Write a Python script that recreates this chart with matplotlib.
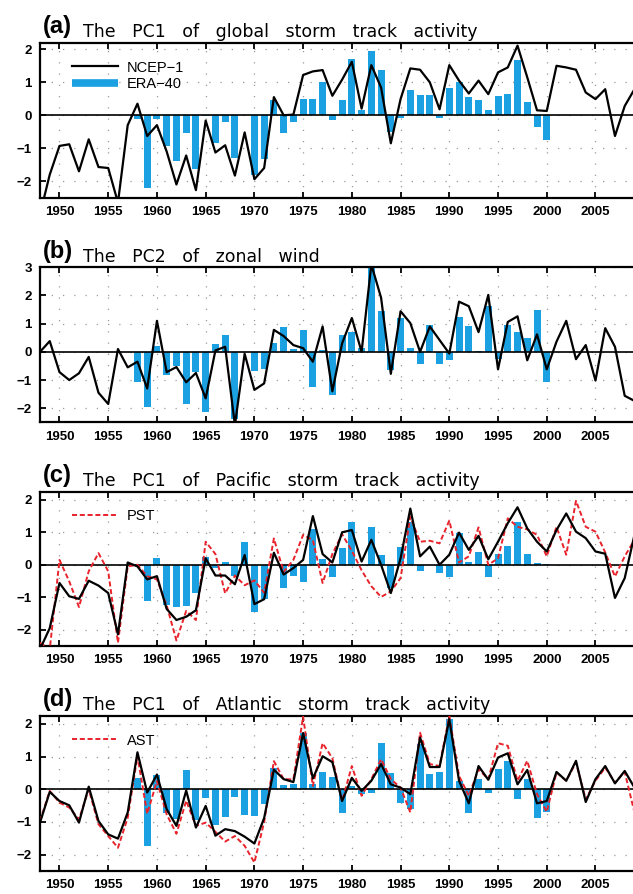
"""
plot.py
-------
Four stacked panels: PCs of storm track activity / zonal wind,
NCEP-1 (black line) vs ERA-40 (blue bars), plus PST / AST (red dashed).
"""

import numpy as np
import matplotlib
matplotlib.use("Agg")
import matplotlib.pyplot as plt
from matplotlib.lines import Line2D

# ── Data ──────────────────────────────────────────────────────────────────────
YEARS     = np.arange(1948, 2010)
ERA_YEARS = np.arange(1958, 2001)

# (a) PC1 of global storm track activity
gst_ncep = [-3.0, -1.8, -0.93, -0.88, -1.7, -0.73, -1.57, -1.6, -2.65, -0.3,
            0.35, -0.63, -0.3, -1.1, -2.1, -1.22, -2.27, -0.16, -1.13, -0.91,
            -1.83, -0.52, -1.94, -1.6, 0.55, 0.0, 0.02, 1.22, 1.33, 1.37,
            0.59, 1.08, 1.62, 0.2, 1.52, 0.84, -0.85, 0.49, 1.42, 1.38,
            1.0, 0.18, 1.52, 1.05, 0.66, 1.05, 0.64, 1.3, 1.45, 2.11,
            1.15, 0.15, 0.13, 1.5, 1.45, 1.38, 0.69, 0.49, 0.79, -0.63,
            0.28, 0.79]
gst_era = [-0.1, -2.2, -0.1, -0.93, -1.4, -0.53, -1.62, -0.03, -0.85, -0.2,
           -1.3, 0.02, -1.82, -1.33, 0.47, -0.55, -0.2, 0.5, 0.5, 1.0,
           -0.15, 0.47, 1.7, 0.15, 1.94, 1.38, -0.5, -0.07, 0.77, 0.62,
           0.62, -0.07, 0.82, 1.0, 0.56, 0.46, 0.16, 0.59, 0.64, 1.68,
           0.41, -0.35, -0.75]

# (b) PC2 of zonal wind
uwnd_ncep = [0.0, 0.38, -0.72, -1.0, -0.76, -0.18, -1.45, -1.85, 0.1, -0.55,
             -0.35, -1.3, 1.1, -0.72, -0.54, -1.08, -0.75, -1.65, 0.05, 0.18,
             -2.6, -0.07, -1.35, -1.12, 0.78, 0.56, 0.24, 0.13, -0.35, 0.9,
             -1.4, 0.3, 1.2, 0.0, 3.1, 1.92, -0.78, 1.44, 1.02, 0.0,
             0.9, 0.42, -0.06, 1.78, 1.62, 0.7, 2.02, -0.62, 1.06, 1.26,
             -0.3, 0.62, -0.62, 0.36, 1.1, -0.26, 0.24, -1.02, 0.84, 0.18,
             -1.56, -1.74]
uwnd_era = [-1.07, -1.94, 0.22, -0.81, -0.5, -1.85, -0.7, -2.12, 0.29, 0.6,
            -2.38, 0.0, -0.69, -0.6, 0.32, 0.88, 0.1, 0.79, -1.23, 0.06,
            -1.52, 0.6, 0.72, 0.12, 3.0, 1.44, -0.66, 1.2, 0.12, -0.42,
            0.96, -0.42, -0.3, 1.24, 0.9, 0.02, 1.62, -0.24, 0.96, 0.7,
            0.48, 1.5, -1.08]

# (c) PC1 of Pacific storm track activity
pac_ncep = [-2.6, -1.95, -0.56, -0.97, -1.05, -0.49, -0.64, -0.87, -2.14, 0.07,
            -0.05, -0.45, -0.35, -1.36, -1.7, -1.6, -1.4, 0.2, -0.33, -0.33,
            -0.6, 0.3, -1.21, -1.06, 0.37, -0.3, -0.1, 0.15, 1.5, 0.33,
            0.07, 1.0, 1.07, 0.1, 0.77, 0.0, -0.87, 0.2, 1.73, 0.26,
            0.56, 0.0, 0.31, 0.99, 0.46, 0.89, 0.17, 0.71, 1.28, 1.77,
            1.12, 0.71, 0.41, 1.07, 1.58, 1.02, 0.82, 0.41, 0.34, -1.02,
            -0.41, 0.92]
pac_pst = [-2.4, -2.6, 0.15, -0.51, -1.3, -0.2, 0.36, -0.2, -2.4, -0.05,
           0.0, -0.35, -0.45, -1.25, -2.33, -1.42, -1.7, 0.71, 0.33, -0.88,
           -0.33, -0.63, -0.48, -0.86, 0.81, -0.22, 0.15, 0.92, 0.76, -0.56,
           0.33, 0.94, 0.43, -0.17, -0.66, -0.99, -0.82, -0.41, 1.48, 0.71,
           0.74, 0.66, 1.36, 0.07, 0.26, 1.15, 0.0, 0.2, 1.43, 1.17,
           1.09, 0.92, 0.26, 1.17, 0.31, 1.97, 1.17, 1.02, 0.38, -0.36,
           0.26, 0.77]
pac_era = [-0.05, -1.13, 0.2, -1.23, -1.31, -1.26, -0.86, 0.25, -0.1, 0.1,
           -0.35, 0.71, -1.46, -1.06, 0.0, -0.7, -0.35, -0.52, 1.1, 0.18,
           -0.38, 0.52, 1.32, 0.0, 1.17, 0.31, -0.71, 0.56, 1.33, -0.2,
           0.0, -0.26, -0.38, 0.99, 0.1, 0.38, -0.38, 0.34, 0.58, 1.33,
           0.34, 0.07, 0.03]

# (d) PC1 of Atlantic storm track activity
atl_ncep = [-1.02, -0.08, -0.36, -0.49, -1.02, 0.08, -0.97, -1.38, -1.51, -0.71,
            1.13, -0.1, 0.45, -0.61, -1.12, -0.04, -1.17, -0.51, -1.42, -1.22,
            -1.28, -1.45, -1.66, -0.88, 0.6, 0.31, 0.22, 1.72, 0.33, 1.01,
            0.83, -0.36, 0.35, -0.05, 0.26, 0.77, 0.15, 0.05, -0.15, 1.58,
            0.68, 0.68, 2.14, 0.26, -0.43, 0.71, 0.29, 0.97, 1.1, 0.15,
            0.59, -0.43, -0.36, 0.53, 0.26, 0.87, -0.39, 0.31, 0.71, 0.18,
            0.56, 0.05]
atl_ast = [-0.97, -0.05, -0.41, -0.56, -0.92, 0.0, -1.07, -1.43, -1.79, -0.87,
           1.02, -0.75, 0.25, -0.77, -1.36, -0.35, -1.12, -1.02, -1.3, -1.6,
           -1.43, -1.73, -2.24, -1.0, 0.86, 0.31, 0.3, 2.22, 0.1, 1.41,
           0.95, -0.36, 0.71, -0.2, 0.31, 0.92, 0.31, 0.05, -0.71, 1.73,
           0.77, 0.71, 2.24, 0.41, -0.2, 0.61, 0.31, 1.41, 1.33, 0.26,
           0.87, -0.15, -0.69, 0.51, 0.26, 0.82, -0.31, 0.26, 0.66, 0.2,
           0.53, -0.71]
atl_era = [0.35, -1.73, 0.44, -0.72, -0.9, 0.6, -0.95, -0.26, -1.08, -0.85,
           -0.23, -0.78, -0.82, -0.46, 0.65, 0.14, 0.17, 1.71, 0.15, 0.53,
           0.36, -0.73, 0.1, -0.15, -0.1, 1.41, 0.51, -0.43, -0.59, 1.38,
           0.46, 0.53, 2.14, 0.25, -0.73, 0.31, -0.1, 0.63, 0.87, -0.31,
           0.31, -0.87, -0.71]

TITLES = [
    ("(a)", ["The", "PC1", "of", "global", "storm", "track", "activity"]),
    ("(b)", ["The", "PC2", "of", "zonal", "wind"]),
    ("(c)", ["The", "PC1", "of", "Pacific", "storm", "track", "activity"]),
    ("(d)", ["The", "PC1", "of", "Atlantic", "storm", "track", "activity"]),
]

# ── Layout (pixels of the 633x894 image) ─────────────────────────────────────
W, H   = 633, 894
X_LEFT = 40
X_MAX  = 2008.85
PANEL_PX = [(42.7, 197.7), (267.3, 422.3), (491.7, 646.0), (715.7, 871.0)]

BLUE = "#1BA1E2"
RED  = "#E8232B"
GRID = "#9a9a9a"
TICK_FONT = "Liberation Sans"

plt.rcParams["font.family"] = "Liberation Sans"


# ─────────────────────────────────────────────────────────────────────────────
def draw_panel(ax, ncep, era, ylim, yticks, extra=None, extra_label=None,
               legend_main=False):
    ax.bar(ERA_YEARS, era, width=0.72, color=BLUE, zorder=2, linewidth=0)
    ax.axhline(0, color="black", lw=1.2, zorder=3)
    if extra is not None:
        ax.plot(YEARS, extra, color=RED, lw=1.4, ls=(0, (2.6, 1.4)), zorder=4)
    ax.plot(YEARS, ncep, color="black", lw=1.6, zorder=5)

    ax.set_xlim(1948, X_MAX)
    ax.set_ylim(*ylim)
    ax.set_xticks(np.arange(1950, 2006, 5))
    ax.set_yticks(yticks)
    ax.grid(True, color=GRID, lw=0.9, ls=(0, (1, 8)), zorder=1)

    ax.tick_params(direction="in", length=4, width=1.3, top=True, right=False,
                   labelsize=9.5, pad=6)
    for lbl in ax.get_xticklabels() + ax.get_yticklabels():
        lbl.set_fontweight("bold")
        lbl.set_family(TICK_FONT)
    for side in ("top", "bottom", "left"):
        ax.spines[side].set_linewidth(1.6)
    ax.spines["right"].set_visible(False)

    # Legend
    if legend_main:
        handles = [Line2D([], [], color="black", lw=1.6),
                   Line2D([], [], color=BLUE, lw=5.5, solid_capstyle="butt")]
        labels = ["NCEP\u22121", "ERA\u221240"]
    else:
        handles = [Line2D([], [], color=RED, lw=1.4, ls=(0, (2.6, 1.4)))]
        labels = [extra_label]
    ax.legend(handles, labels, loc="upper left",
              bbox_to_anchor=(32 / (W - X_LEFT), 0.885),
              frameon=False, borderpad=0, borderaxespad=0,
              handlelength=3.15, handletextpad=0.62, labelspacing=0.15,
              prop={"family": "Liberation Sans", "size": 10.5})


# ─────────────────────────────────────────────────────────────────────────────
fig = plt.figure(figsize=(W / 100, H / 100), dpi=100)

panel_data = [
    (gst_ncep, gst_era, (-2.5, 2.2), [-2, -1, 0, 1, 2], None, None, True),
    (uwnd_ncep, uwnd_era, (-2.5, 3.0), [-2, -1, 0, 1, 2, 3], None, None, True),
    (pac_ncep, pac_era, (-2.5, 2.25), [-2, -1, 0, 1, 2], pac_pst, "PST", False),
    (atl_ncep, atl_era, (-2.5, 2.25), [-2, -1, 0, 1, 2], atl_ast, "AST", False),
]

for i, ((top, bot), data, (tag, words)) in enumerate(zip(PANEL_PX, panel_data, TITLES)):
    ax = fig.add_axes([X_LEFT / W, 1 - bot / H, 1 - X_LEFT / W, (bot - top) / H])
    ncep, era, ylim, yticks, extra, extra_label, legend_main = data
    draw_panel(ax, ncep, era, ylim, yticks, extra, extra_label,
               legend_main=legend_main)
    if i == 1:
        ax.get_legend().remove()

    fig.text(43 / W, 1 - (top - 9.5) / H, tag, fontsize=17, fontweight="bold",
             family="Liberation Sans", va="baseline")
    fig.text(83 / W, 1 - (top - 5.5) / H, "   ".join(words), fontsize=12.5,
             family="DejaVu Sans", va="baseline")

fig.savefig("out.png", dpi=100)
plt.close(fig)
